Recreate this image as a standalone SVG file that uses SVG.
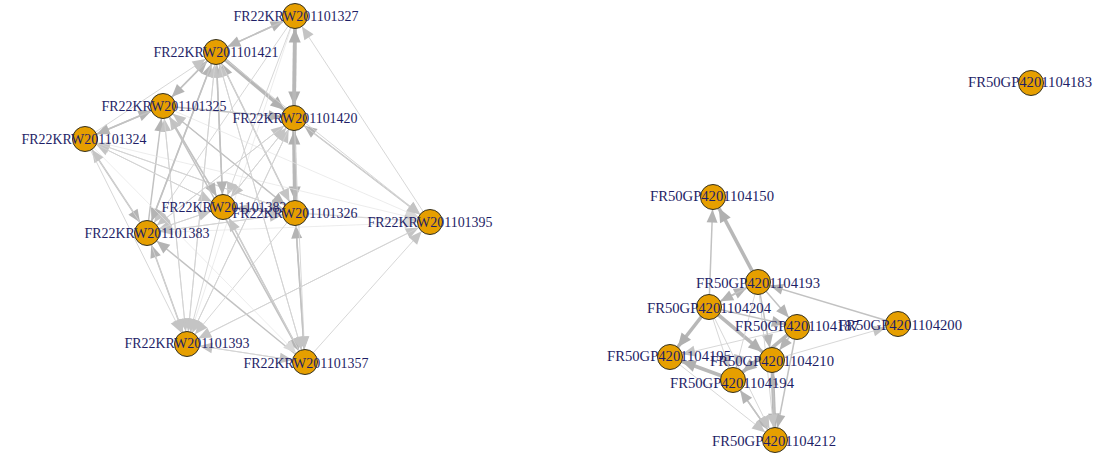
<svg xmlns="http://www.w3.org/2000/svg" width="1113" height="455" viewBox="0 0 1113 455">
<style>
  .e line { fill: none; }
  .x { stroke: #e4e4e4; stroke-width: 0.7; marker-end: url(#ax); }
  .t { stroke: #d2d2d2; stroke-width: 0.9; marker-end: url(#at); }
  .m { stroke: #c2c2c2; stroke-width: 1.5; marker-end: url(#am); }
  .k { stroke: #b8b8b8; stroke-width: 3.6; marker-end: url(#ak); }
  .node circle { fill: #E69F00; stroke: #33301f; stroke-width: 1; }
  .node text { font-family: "Liberation Serif", "DejaVu Serif", serif; font-size: 14.5px; fill: #1e1e66; text-anchor: middle; }
</style>
<defs>
  <!-- arrowheads sit on the rim of the r=12.5 vertex circle -->
  <marker id="ax" markerUnits="userSpaceOnUse" viewBox="0 0 13 11" markerWidth="13" markerHeight="11" refX="25.5" refY="5.5" orient="auto" overflow="visible"><path d="M0,0 L13,5.5 L0,11 z" fill="#d8d8d8"/></marker>
  <marker id="at" markerUnits="userSpaceOnUse" viewBox="0 0 13 11" markerWidth="13" markerHeight="11" refX="25.5" refY="5.5" orient="auto" overflow="visible"><path d="M0,0 L13,5.5 L0,11 z" fill="#c4c4c4"/></marker>
  <marker id="am" markerUnits="userSpaceOnUse" viewBox="0 0 13 11" markerWidth="13" markerHeight="11" refX="25.5" refY="5.5" orient="auto" overflow="visible"><path d="M0,0 L13,5.5 L0,11 z" fill="#b4b4b4"/></marker>
  <marker id="ak" markerUnits="userSpaceOnUse" viewBox="0 0 14 12" markerWidth="14" markerHeight="12" refX="26.5" refY="6" orient="auto" overflow="visible"><path d="M0,0 L14,6 L0,12 z" fill="#b0b0b0"/></marker>
</defs>
<rect width="1113" height="455" fill="#ffffff"/>

<g id="edges" class="e">
  <!-- left component -->
  <line class="m" x1="216" y1="52" x2="295" y2="16"/>
  <line class="m" x1="295" y1="16" x2="216" y2="52"/>
  <line class="k" x1="295" y1="16" x2="294" y2="118"/>
  <line class="k" x1="294" y1="118" x2="295" y2="16"/>
  <line class="k" x1="216" y1="52" x2="294" y2="118"/>
  <line class="t" x1="430" y1="222" x2="295" y2="16"/>
  <line class="m" x1="430" y1="222" x2="294" y2="118"/>
  <line class="k" x1="294" y1="118" x2="295" y2="213"/>
  <line class="k" x1="295" y1="213" x2="294" y2="118"/>
  <line class="m" x1="295" y1="213" x2="305" y2="362"/>
  <line class="m" x1="305" y1="362" x2="295" y2="213"/>
  <line class="m" x1="85" y1="139" x2="163" y2="106"/>
  <line class="m" x1="163" y1="106" x2="85" y2="139"/>
  <line class="m" x1="163" y1="106" x2="216" y2="52"/>
  <line class="m" x1="216" y1="52" x2="163" y2="106"/>
  <line class="t" x1="85" y1="139" x2="216" y2="52"/>
  <line class="m" x1="147" y1="233" x2="216" y2="52"/>
  <line class="m" x1="223" y1="207" x2="216" y2="52"/>
  <line class="t" x1="187" y1="344" x2="216" y2="52"/>
  <line class="m" x1="295" y1="213" x2="216" y2="52"/>
  <line class="t" x1="305" y1="362" x2="216" y2="52"/>
  <line class="m" x1="163" y1="106" x2="294" y2="118"/>
  <line class="m" x1="147" y1="233" x2="163" y2="106"/>
  <line class="t" x1="223" y1="207" x2="163" y2="106"/>
  <line class="t" x1="187" y1="344" x2="163" y2="106"/>
  <line class="t" x1="295" y1="213" x2="163" y2="106"/>
  <line class="t" x1="295" y1="16" x2="223" y2="207"/>
  <line class="t" x1="295" y1="16" x2="147" y2="233"/>
  <line class="x" x1="295" y1="16" x2="187" y2="344"/>
  <line class="t" x1="223" y1="207" x2="85" y2="139"/>
  <line class="t" x1="295" y1="213" x2="85" y2="139"/>
  <line class="m" x1="85" y1="139" x2="147" y2="233"/>
  <line class="t" x1="147" y1="233" x2="85" y2="139"/>
  <line class="t" x1="85" y1="139" x2="187" y2="344"/>
  <line class="t" x1="85" y1="139" x2="223" y2="207"/>
  <line class="t" x1="85" y1="139" x2="295" y2="213"/>
  <line class="x" x1="85" y1="139" x2="430" y2="222"/>
  <line class="m" x1="216" y1="52" x2="223" y2="207"/>
  <line class="m" x1="163" y1="106" x2="223" y2="207"/>
  <line class="t" x1="294" y1="118" x2="223" y2="207"/>
  <line class="t" x1="147" y1="233" x2="294" y2="118"/>
  <line class="t" x1="223" y1="207" x2="294" y2="118"/>
  <line class="t" x1="187" y1="344" x2="294" y2="118"/>
  <line class="t" x1="216" y1="52" x2="295" y2="213"/>
  <line class="m" x1="163" y1="106" x2="295" y2="213"/>
  <line class="m" x1="223" y1="207" x2="295" y2="213"/>
  <line class="t" x1="147" y1="233" x2="295" y2="213"/>
  <line class="t" x1="216" y1="52" x2="430" y2="222"/>
  <line class="x" x1="163" y1="106" x2="430" y2="222"/>
  <line class="t" x1="294" y1="118" x2="430" y2="222"/>
  <line class="x" x1="223" y1="207" x2="430" y2="222"/>
  <line class="t" x1="295" y1="213" x2="430" y2="222"/>
  <line class="x" x1="147" y1="233" x2="430" y2="222"/>
  <line class="t" x1="187" y1="344" x2="430" y2="222"/>
  <line class="t" x1="305" y1="362" x2="430" y2="222"/>
  <line class="m" x1="216" y1="52" x2="147" y2="233"/>
  <line class="t" x1="223" y1="207" x2="147" y2="233"/>
  <line class="t" x1="294" y1="118" x2="147" y2="233"/>
  <line class="t" x1="295" y1="213" x2="147" y2="233"/>
  <line class="m" x1="187" y1="344" x2="147" y2="233"/>
  <line class="m" x1="305" y1="362" x2="147" y2="233"/>
  <line class="t" x1="163" y1="106" x2="187" y2="344"/>
  <line class="t" x1="216" y1="52" x2="187" y2="344"/>
  <line class="t" x1="223" y1="207" x2="187" y2="344"/>
  <line class="t" x1="294" y1="118" x2="187" y2="344"/>
  <line class="t" x1="295" y1="213" x2="187" y2="344"/>
  <line class="t" x1="147" y1="233" x2="187" y2="344"/>
  <line class="t" x1="430" y1="222" x2="187" y2="344"/>
  <line class="t" x1="305" y1="362" x2="187" y2="344"/>
  <line class="t" x1="187" y1="344" x2="305" y2="362"/>
  <line class="m" x1="223" y1="207" x2="305" y2="362"/>
  <line class="m" x1="163" y1="106" x2="305" y2="362"/>
  <line class="t" x1="216" y1="52" x2="305" y2="362"/>
  <line class="x" x1="85" y1="139" x2="305" y2="362"/>
  <line class="t" x1="294" y1="118" x2="305" y2="362"/>
  <line class="t" x1="147" y1="233" x2="223" y2="207"/>
  <line class="t" x1="305" y1="362" x2="223" y2="207"/>
  <line class="t" x1="295" y1="213" x2="223" y2="207"/>

  <!-- right component -->
  <line class="m" x1="709" y1="307" x2="713" y2="197"/>
  <line class="k" x1="758" y1="282" x2="713" y2="197"/>
  <line class="m" x1="898" y1="324" x2="758" y2="282"/>
  <line class="m" x1="709" y1="307" x2="758" y2="282"/>
  <line class="m" x1="758" y1="282" x2="709" y2="307"/>
  <line class="m" x1="758" y1="282" x2="797" y2="327"/>
  <line class="t" x1="772" y1="360" x2="898" y2="324"/>
  <line class="k" x1="709" y1="307" x2="670" y2="357"/>
  <line class="t" x1="797" y1="327" x2="670" y2="357"/>
  <line class="k" x1="733" y1="380" x2="670" y2="357"/>
  <line class="k" x1="709" y1="307" x2="772" y2="360"/>
  <line class="k" x1="797" y1="327" x2="733" y2="380"/>
  <line class="t" x1="758" y1="282" x2="733" y2="380"/>
  <line class="m" x1="758" y1="282" x2="772" y2="360"/>
  <line class="m" x1="733" y1="380" x2="775" y2="440"/>
  <line class="m" x1="775" y1="440" x2="733" y2="380"/>
  <line class="k" x1="772" y1="360" x2="775" y2="440"/>
  <line class="m" x1="797" y1="327" x2="775" y2="440"/>
  <line class="t" x1="709" y1="307" x2="775" y2="440"/>
  <line class="m" x1="775" y1="440" x2="772" y2="360"/>
  <line class="m" x1="709" y1="307" x2="797" y2="327"/>
  <line class="t" x1="709" y1="307" x2="733" y2="380"/>
  <line class="m" x1="797" y1="327" x2="772" y2="360"/>
  <line class="t" x1="670" y1="357" x2="775" y2="440"/>
  <line class="t" x1="758" y1="282" x2="775" y2="440"/>
</g>

<!-- left component vertices -->
<g id="n1327" class="node"><circle cx="295" cy="16" r="12.5"/><text x="296" y="21" textLength="125" lengthAdjust="spacingAndGlyphs">FR22KRW201101327</text></g>
<g id="n1421" class="node"><circle cx="216" cy="52" r="12.5"/><text x="216" y="57" textLength="125" lengthAdjust="spacingAndGlyphs">FR22KRW201101421</text></g>
<g id="n1325" class="node"><circle cx="163" cy="106" r="12.5"/><text x="164" y="111" textLength="125" lengthAdjust="spacingAndGlyphs">FR22KRW201101325</text></g>
<g id="n1420" class="node"><circle cx="294" cy="118" r="12.5"/><text x="295" y="123" textLength="125" lengthAdjust="spacingAndGlyphs">FR22KRW201101420</text></g>
<g id="n1324" class="node"><circle cx="85" cy="139" r="12.5"/><text x="84" y="144" textLength="125" lengthAdjust="spacingAndGlyphs">FR22KRW201101324</text></g>
<g id="n1382" class="node"><circle cx="223" cy="207" r="12.5"/><text x="224" y="212" textLength="125" lengthAdjust="spacingAndGlyphs">FR22KRW201101382</text></g>
<g id="n1326" class="node"><circle cx="295" cy="213" r="12.5"/><text x="295" y="218" textLength="125" lengthAdjust="spacingAndGlyphs">FR22KRW201101326</text></g>
<g id="n1395" class="node"><circle cx="430" cy="222" r="12.5"/><text x="430" y="227" textLength="125" lengthAdjust="spacingAndGlyphs">FR22KRW201101395</text></g>
<g id="n1383" class="node"><circle cx="147" cy="233" r="12.5"/><text x="147" y="238" textLength="125" lengthAdjust="spacingAndGlyphs">FR22KRW201101383</text></g>
<g id="n1393" class="node"><circle cx="187" cy="344" r="12.5"/><text x="187" y="348" textLength="125" lengthAdjust="spacingAndGlyphs">FR22KRW201101393</text></g>
<g id="n1357" class="node"><circle cx="305" cy="362" r="12.5"/><text x="306" y="368" textLength="125" lengthAdjust="spacingAndGlyphs">FR22KRW201101357</text></g>

<!-- right component vertices -->
<g id="n4150" class="node"><circle cx="713" cy="197" r="12.5"/><text x="712" y="201" textLength="124" lengthAdjust="spacingAndGlyphs">FR50GP4201104150</text></g>
<g id="n4193" class="node"><circle cx="758" cy="282" r="12.5"/><text x="758" y="288" textLength="124" lengthAdjust="spacingAndGlyphs">FR50GP4201104193</text></g>
<g id="n4204" class="node"><circle cx="709" cy="307" r="12.5"/><text x="709" y="313" textLength="124" lengthAdjust="spacingAndGlyphs">FR50GP4201104204</text></g>
<g id="n4187" class="node"><circle cx="797" cy="327" r="12.5"/><text x="797" y="331" textLength="124" lengthAdjust="spacingAndGlyphs">FR50GP4201104187</text></g>
<g id="n4200" class="node"><circle cx="898" cy="324" r="12.5"/><text x="900" y="330" textLength="124" lengthAdjust="spacingAndGlyphs">FR50GP4201104200</text></g>
<g id="n4195" class="node"><circle cx="670" cy="357" r="12.5"/><text x="669" y="361" textLength="124" lengthAdjust="spacingAndGlyphs">FR50GP4201104195</text></g>
<g id="n4210" class="node"><circle cx="772" cy="360" r="12.5"/><text x="772" y="366" textLength="124" lengthAdjust="spacingAndGlyphs">FR50GP4201104210</text></g>
<g id="n4194" class="node"><circle cx="733" cy="380" r="12.5"/><text x="732" y="388" textLength="124" lengthAdjust="spacingAndGlyphs">FR50GP4201104194</text></g>
<g id="n4212" class="node"><circle cx="775" cy="440" r="12.5"/><text x="774" y="446" textLength="124" lengthAdjust="spacingAndGlyphs">FR50GP4201104212</text></g>

<!-- isolated vertex -->
<g id="n4183" class="node"><circle cx="1031" cy="83" r="12.5"/><text x="1030" y="87" textLength="124" lengthAdjust="spacingAndGlyphs">FR50GP4201104183</text></g>
</svg>
